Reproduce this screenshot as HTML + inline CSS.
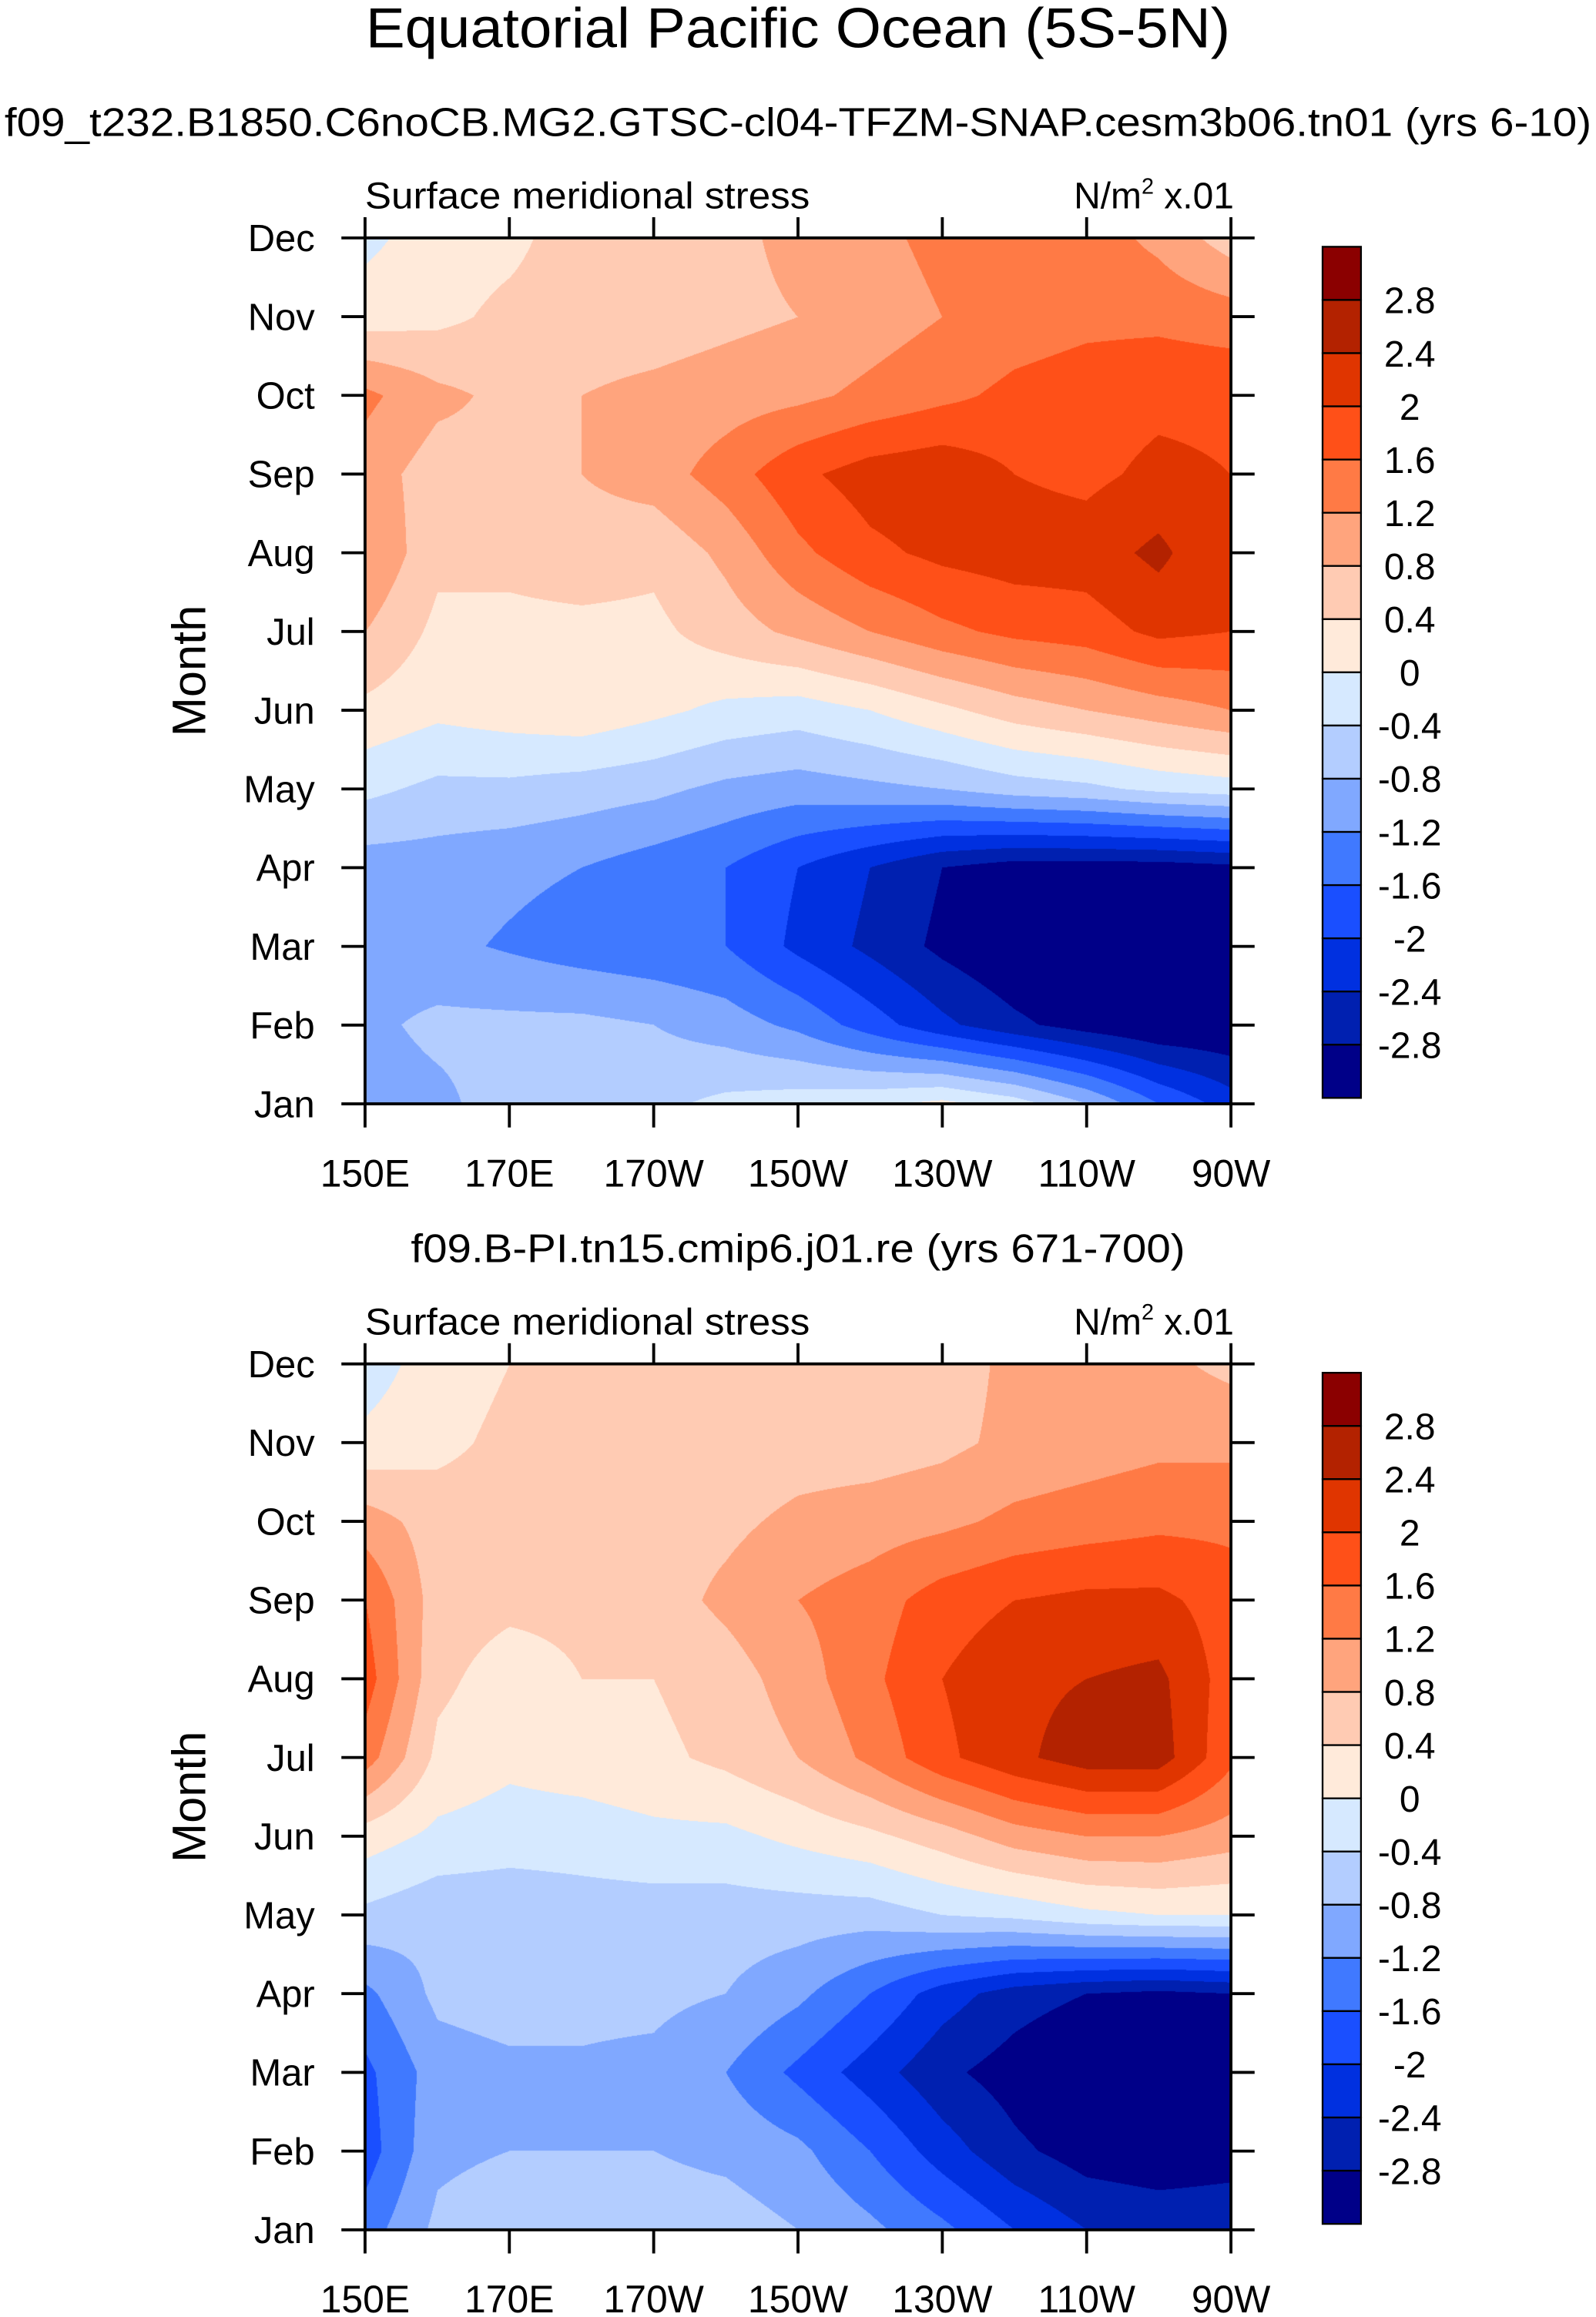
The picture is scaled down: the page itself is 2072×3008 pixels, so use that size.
<!DOCTYPE html>
<html><head><meta charset="utf-8">
<style>
html,body{margin:0;padding:0;background:#fff;}
#wrap{position:relative;width:2072px;height:3008px;overflow:hidden;}
canvas{position:absolute;}
svg{position:absolute;left:0;top:0;}
text{font-family:"Liberation Sans",sans-serif;fill:#000;}
</style></head>
<body>
<div id="wrap">
<canvas id="c1"></canvas>
<canvas id="c2"></canvas>
<svg id="svg" width="2072" height="3008" viewBox="0 0 1080 1568">
<text x="540" y="32" font-size="38" text-anchor="middle" textLength="585" lengthAdjust="spacingAndGlyphs">Equatorial Pacific Ocean (5S-5N)</text>
<text x="540" y="92" font-size="27" text-anchor="middle" textLength="1074" lengthAdjust="spacingAndGlyphs">f09_t232.B1850.C6noCB.MG2.GTSC-cl04-TFZM-SNAP.cesm3b06.tn01 (yrs 6-10)</text>
<text x="540" y="854" font-size="27" text-anchor="middle" textLength="524" lengthAdjust="spacingAndGlyphs">f09.B-PI.tn15.cmip6.j01.re (yrs 671-700)</text>
<g id="axes"></g>
</svg>
</div>
<script>
const months = ["Jan","Feb","Mar","Apr","May","Jun","Jul","Aug","Sep","Oct","Nov","Dec"];
const lons = [150,160,170,180,190,200,210,220,230,240,250,260,270];
const xTickLabels = ["150E","170E","170W","150W","130W","110W","90W"];
const xTickLons = [150,170,190,210,230,250,270];
const levelLabels = ["2.8","2.4","2","1.6","1.2","0.8","0.4","0","-0.4","-0.8","-1.2","-1.6","-2","-2.4","-2.8"];
const levels = [-2.8,-2.4,-2.0,-1.6,-1.2,-0.8,-0.4,0,0.4,0.8,1.2,1.6,2.0,2.4,2.8];
const colors = ["#000088","#0020b0","#0030e0","#1a4fff","#4079ff","#80a8ff","#b3cdff","#d6e9ff","#ffeada","#ffcbb3","#ffa47d","#ff7a45","#ff5018","#e03500","#b32200","#8b0000"];
// rows Jan..Dec, cols 150E..90W
const topData = [
[-1.0,-0.9,-0.6,-0.6,-0.5,-0.3,-0.2,-0.1,0.1,-0.2,-0.8,-1.6,-2.2],
[-0.9,-0.7,-0.7,-0.7,-0.8,-1.0,-1.3,-1.8,-2.3,-2.7,-3.0,-3.2,-3.2],
[-1.0,-1.1,-1.25,-1.4,-1.5,-1.6,-2.1,-2.5,-2.9,-3.2,-3.3,-3.3,-3.2],
[-1.0,-1.0,-1.1,-1.2,-1.4,-1.6,-2.0,-2.4,-2.8,-3.0,-3.0,-3.0,-2.9],
[-0.3,-0.5,-0.5,-0.6,-0.7,-0.9,-1.0,-0.9,-0.8,-0.6,-0.5,-0.3,-0.2],
[0.3,0.1,0.2,0.3,0.1,-0.1,-0.2,0.0,0.3,0.6,0.8,1.0,1.2],
[0.8,0.3,0.3,0.3,0.3,0.6,0.9,1.2,1.5,1.7,1.8,2.1,2.0],
[1.2,0.5,0.5,0.6,0.5,0.9,1.5,1.9,2.1,2.2,2.2,2.5,2.0],
[1.0,0.6,0.7,0.8,1.0,1.4,1.9,2.2,2.3,2.0,1.9,2.1,2.0],
[1.3,0.9,0.7,0.8,0.9,1.0,1.1,1.3,1.5,1.7,1.8,1.9,1.9],
[0.2,0.3,0.5,0.6,0.6,0.7,0.8,1.0,1.2,1.4,1.5,1.5,1.4],
[-0.1,0.2,0.3,0.6,0.6,0.7,0.9,1.1,1.3,1.4,1.4,1.1,0.6]];
const bottomData = [
[-1.4,-0.7,-0.5,-0.5,-0.6,-0.6,-0.8,-1.1,-1.5,-2.0,-2.4,-2.5,-2.5],
[-1.8,-0.9,-0.8,-0.8,-0.8,-0.9,-1.1,-1.6,-2.2,-2.7,-3.0,-3.1,-3.0],
[-1.7,-1.0,-0.9,-0.85,-0.9,-1.2,-1.7,-2.2,-2.7,-3.0,-3.3,-3.3,-3.0],
[-1.3,-0.7,-0.6,-0.7,-0.7,-0.8,-1.1,-1.6,-2.2,-2.6,-2.8,-2.9,-2.8],
[-0.5,-0.7,-0.7,-0.6,-0.6,-0.6,-0.6,-0.6,-0.4,-0.3,-0.1,0.0,0.0],
[0.2,-0.1,-0.2,-0.2,-0.1,-0.1,0.1,0.3,0.6,1.0,1.2,1.2,1.0],
[1.4,0.3,0.1,0.2,0.3,0.5,0.8,1.3,1.9,2.3,2.6,2.6,1.7],
[1.8,0.5,0.2,0.4,0.4,0.6,1.0,1.5,2.0,2.3,2.4,2.5,1.8],
[1.6,0.6,0.5,0.5,0.6,0.9,1.2,1.4,1.8,2.0,2.1,2.1,1.8],
[1.0,0.6,0.6,0.6,0.6,0.7,0.9,1.0,1.1,1.3,1.4,1.5,1.5],
[0.1,0.3,0.5,0.5,0.5,0.5,0.6,0.6,0.7,0.9,1.0,1.1,1.1],
[-0.2,0.2,0.4,0.5,0.5,0.5,0.6,0.6,0.6,0.9,0.9,0.9,0.7]];

const S = 2072/1080;
const X0=247, X1=833, PH=586;
const NS="http://www.w3.org/2000/svg";
const axes=document.getElementById('axes');
function xScale(lon){return X0+(lon-150)/120*(X1-X0);}
function yScale(m,top){return top+PH-m/11*PH;}
function colorIdx(v){let i=0;for(const l of levels){if(v>=l)i++;}return i;}
function mk(tag,attrs,parent){const e=document.createElementNS(NS,tag);for(const k in attrs)e.setAttribute(k,attrs[k]);(parent||axes).appendChild(e);return e;}
function rgb(h){return [parseInt(h.slice(1,3),16),parseInt(h.slice(3,5),16),parseInt(h.slice(5,7),16)];}
const rgbs=colors.map(rgb);

function drawContour(id,data,top){
  const c=document.getElementById(id);
  const L=Math.round(X0*S),T=Math.round(top*S),W=Math.round((X1-X0)*S),H=Math.round(PH*S);
  c.style.left=L+'px';c.style.top=T+'px';c.width=W;c.height=H;
  const ctx=c.getContext('2d');const img=ctx.createImageData(W,H);
  const nx=lons.length-1, ny=months.length-1;
  for(let py=0;py<H;py++){
    const fy=(1-py/(H-1))*ny; const j=Math.min(Math.floor(fy),ny-1); const ty=fy-j;
    for(let px=0;px<W;px++){
      const fx=px/(W-1)*nx; const i=Math.min(Math.floor(fx),nx-1); const tx=fx-i;
      const v=(data[j][i]*(1-tx)+data[j][i+1]*tx)*(1-ty)+(data[j+1][i]*(1-tx)+data[j+1][i+1]*tx)*ty;
      const col=rgbs[colorIdx(v)]; const k=(py*W+px)*4;
      img.data[k]=col[0];img.data[k+1]=col[1];img.data[k+2]=col[2];img.data[k+3]=255;
    }
  }
  ctx.putImageData(img,0,0);
}

function drawPanel(prefix,data,top,canvasId){
  drawContour(canvasId,data,top);
  const g=mk('g',{});
  
  
  const fr=mk('rect',{x:X0,y:top,width:X1-X0,height:PH,fill:'none',stroke:'#000','stroke-width':2},g);
  
  
  months.forEach((m,i)=>{
    const y=yScale(i,top);
    mk('line',{x1:X0-16,x2:X0,y1:y,y2:y,stroke:'#000','stroke-width':2},g);
    mk('line',{x1:X1,x2:X1+16,y1:y,y2:y,stroke:'#000','stroke-width':2},g);
    const t=mk('text',{x:213,y:y+9,'font-size':25.5,'text-anchor':'end'},g);
    t.textContent=m;
    
    
  });
  xTickLons.forEach((lon,i)=>{
    const x=xScale(lon);
    mk('line',{x1:x,x2:x,y1:top+PH,y2:top+PH+16,stroke:'#000','stroke-width':2},g);
    mk('line',{x1:x,x2:x,y1:top-14,y2:top,stroke:'#000','stroke-width':2},g);
    const t=mk('text',{x:x,y:top+PH+56,'font-size':26,'text-anchor':'middle'},g);
    t.textContent=xTickLabels[i];
    
    
  });
  const yl=mk('text',{x:0,y:0,'font-size':32,'text-anchor':'middle',transform:`translate(139,${top+PH/2}) rotate(-90)`},g);
  yl.textContent='Month';
  
  
  const lt=mk('text',{x:X0,y:top-20,'font-size':25,textLength:301,lengthAdjust:'spacingAndGlyphs'},g);
  lt.textContent='Surface meridional stress';
  
  
  const rt=mk('text',{x:X1+2,y:top-20,'font-size':25,'text-anchor':'end'},g);
  rt.innerHTML='N/m<tspan dy="-10" font-size="15">2</tspan><tspan dy="10"> x.01</tspan>';
  
  
  // colorbar
  const cbTop=top+6, bh=36, cbx=895, cbw=26;
  const cb=mk('g',{},g);
  
  
  for(let k=0;k<colors.length;k++){
    const r=mk('rect',{x:cbx,y:cbTop+k*bh,width:cbw,height:bh,fill:colors[colors.length-1-k],stroke:'#000','stroke-width':1.2},cb);
    
    
  }
  levelLabels.forEach((lab,k)=>{
    const t=mk('text',{x:954,y:cbTop+(k+1)*bh+9,'font-size':25,'text-anchor':'middle'},cb);
    t.textContent=lab;
    
    
  });
}
drawPanel('top',topData,161,'c1');
drawPanel('bottom',bottomData,923,'c2');
</script>
</body></html>
